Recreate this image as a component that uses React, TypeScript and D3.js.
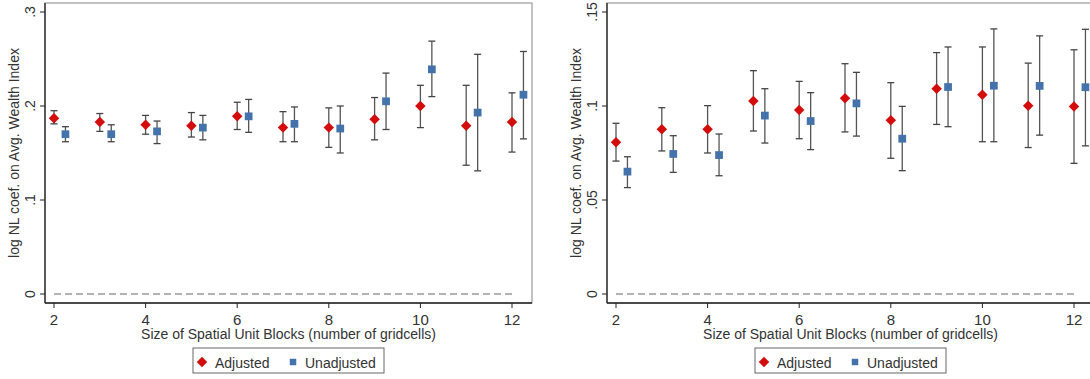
import React from "react";
import * as d3 from "d3";

// block sizes (x axis)
const blockSizes = [2, 3, 4, 5, 6, 7, 8, 9, 10, 11, 12];

// left panel
const leftAdjusted = [0.187, 0.183, 0.180, 0.179, 0.189, 0.177, 0.177, 0.186, 0.200, 0.179, 0.183];
const leftAdjustedLo = [0.181, 0.173, 0.170, 0.167, 0.175, 0.162, 0.156, 0.164, 0.177, 0.137, 0.151];
const leftAdjustedHi = [0.195, 0.192, 0.190, 0.193, 0.204, 0.194, 0.198, 0.209, 0.222, 0.222, 0.214];
const leftUnadjusted = [0.170, 0.170, 0.173, 0.177, 0.189, 0.181, 0.176, 0.205, 0.239, 0.193, 0.212];
const leftUnadjustedLo = [0.162, 0.162, 0.160, 0.164, 0.172, 0.162, 0.150, 0.175, 0.210, 0.131, 0.165];
const leftUnadjustedHi = [0.178, 0.180, 0.184, 0.190, 0.207, 0.199, 0.200, 0.235, 0.269, 0.255, 0.258];
const leftTicks = [0, 0.1, 0.2, 0.3];

// right panel
const rightAdjusted = [0.0807, 0.0876, 0.0876, 0.1027, 0.0979, 0.1041, 0.0924, 0.1092, 0.1060, 0.1001, 0.0997];
const rightAdjustedLo = [0.0707, 0.0761, 0.0750, 0.0867, 0.0826, 0.0862, 0.0722, 0.0902, 0.0810, 0.0779, 0.0695];
const rightAdjustedHi = [0.0908, 0.0991, 0.1002, 0.1188, 0.1131, 0.1225, 0.1124, 0.1284, 0.1314, 0.1228, 0.1299];
const rightUnadjusted = [0.0651, 0.0745, 0.0739, 0.0949, 0.0920, 0.1014, 0.0826, 0.1101, 0.1108, 0.1107, 0.1100];
const rightUnadjustedLo = [0.0566, 0.0647, 0.0629, 0.0803, 0.0768, 0.0840, 0.0656, 0.0890, 0.0810, 0.0845, 0.0788];
const rightUnadjustedHi = [0.0730, 0.0842, 0.0851, 0.1092, 0.1071, 0.1179, 0.0998, 0.1314, 0.1410, 0.1373, 0.1408];
const rightTicks = [0, 0.05, 0.1, 0.15];

const xTicks = [2, 4, 6, 8, 10, 12];
const unadjOffset = 0.25;

const RED = "#d30c0c";
const BLUE = "#4472aa";
const TEXT = "#333";
const FONT = "'Liberation Sans', Arial, sans-serif";

const fmt = (d: number) => (d === 0 ? "0" : String(d).replace(/^0/, ""));

const diamond = d3.symbol(d3.symbolSquare, 55)();
const square = d3.symbol(d3.symbolSquare, 60)();

function Panel({ offsetX, yMax, yTicks, adj, adjLo, adjHi, un, unLo, unHi }: any) {
  const left = 45, right = 532, top = 3, bottom = 303;
  const x = d3.scaleLinear().domain([2, 12]).range([54, 512]);
  const y = d3.scaleLinear().domain([0, yMax]).range([294, 12]);

  const series = [
    { est: adj, lo: adjLo, hi: adjHi, dx: 0, color: RED, path: diamond, rot: 45 },
    { est: un, lo: unLo, hi: unHi, dx: unadjOffset, color: BLUE, path: square, rot: 0 },
  ];

  return (
    <g transform={`translate(${offsetX},0)`} fontFamily={FONT} fill={TEXT}>
      {/* plot frame */}
      <rect x={left} y={top} width={right - left} height={bottom - top} fill="none" stroke="#999" strokeWidth={1.2} />
      <line x1={left} x2={left} y1={top} y2={bottom} stroke="#222" strokeWidth={1.3} />
      <line x1={left} x2={right} y1={bottom} y2={bottom} stroke="#222" strokeWidth={1.3} />

      {/* y axis */}
      {yTicks.map((t: number) => (
        <g key={t}>
          <line x1={left - 5} x2={left} y1={y(t)} y2={y(t)} stroke="#222" />
          <text
            transform={`translate(35,${y(t)}) rotate(-90)`}
            textAnchor="middle"
            fontSize={14}
          >
            {fmt(t)}
          </text>
        </g>
      ))}
      <text transform={`translate(19,${(top + bottom) / 2}) rotate(-90)`} textAnchor="middle" fontSize={14}>
        log NL coef. on Avg. Wealth Index
      </text>

      {/* x axis */}
      {xTicks.map((t) => (
        <g key={t}>
          <line x1={x(t)} x2={x(t)} y1={bottom} y2={bottom + 5} stroke="#222" />
          <text x={x(t)} y={325} textAnchor="middle" fontSize={15}>
            {t}
          </text>
        </g>
      ))}
      <text x={(left + right) / 2} y={339} textAnchor="middle" fontSize={14}>
        Size of Spatial Unit Blocks (number of gridcells)
      </text>

      {/* zero reference */}
      <line x1={x(2)} x2={x(12)} y1={y(0)} y2={y(0)} stroke="#666" strokeDasharray="7,4" strokeWidth={1} />

      {/* estimates with CIs */}
      {series.map((s, si) => (
        <g key={si}>
          {blockSizes.map((b, i) => {
            const cx = x(b + s.dx);
            return (
              <g key={b}>
                <line x1={cx} x2={cx} y1={y(s.lo[i])} y2={y(s.hi[i])} stroke="#555" strokeWidth={1.3} />
                <line x1={cx - 3.5} x2={cx + 3.5} y1={y(s.lo[i])} y2={y(s.lo[i])} stroke="#444" strokeWidth={1.3} />
                <line x1={cx - 3.5} x2={cx + 3.5} y1={y(s.hi[i])} y2={y(s.hi[i])} stroke="#444" strokeWidth={1.3} />
                <path d={s.path as string} transform={`translate(${cx},${y(s.est[i])}) rotate(${s.rot})`} fill={s.color} />
              </g>
            );
          })}
        </g>
      ))}

      {/* legend */}
      <rect x={193} y={348} width={191} height={25} fill="white" stroke="#666" strokeWidth={1} />
      <path d={diamond as string} transform="translate(202,362) rotate(45)" fill={RED} />
      <text x={215} y={368} fontSize={14}>Adjusted</text>
      <path d={d3.symbol(d3.symbolSquare, 42)() as string} transform="translate(293,362)" fill={BLUE} />
      <text x={305} y={368} fontSize={14}>Unadjusted</text>
    </g>
  );
}

export default function App() {
  return (
    <svg
      width={1090}
      height={379}
      style={{ position: "absolute", left: 0, top: 0, background: "white" }}
    >
      <Panel
        offsetX={0}
        yMax={0.3}
        yTicks={leftTicks}
        adj={leftAdjusted}
        adjLo={leftAdjustedLo}
        adjHi={leftAdjustedHi}
        un={leftUnadjusted}
        unLo={leftUnadjustedLo}
        unHi={leftUnadjustedHi}
      />
      <Panel
        offsetX={562}
        yMax={0.15}
        yTicks={rightTicks}
        adj={rightAdjusted}
        adjLo={rightAdjustedLo}
        adjHi={rightAdjustedHi}
        un={rightUnadjusted}
        unLo={rightUnadjustedLo}
        unHi={rightUnadjustedHi}
      />
    </svg>
  );
}
